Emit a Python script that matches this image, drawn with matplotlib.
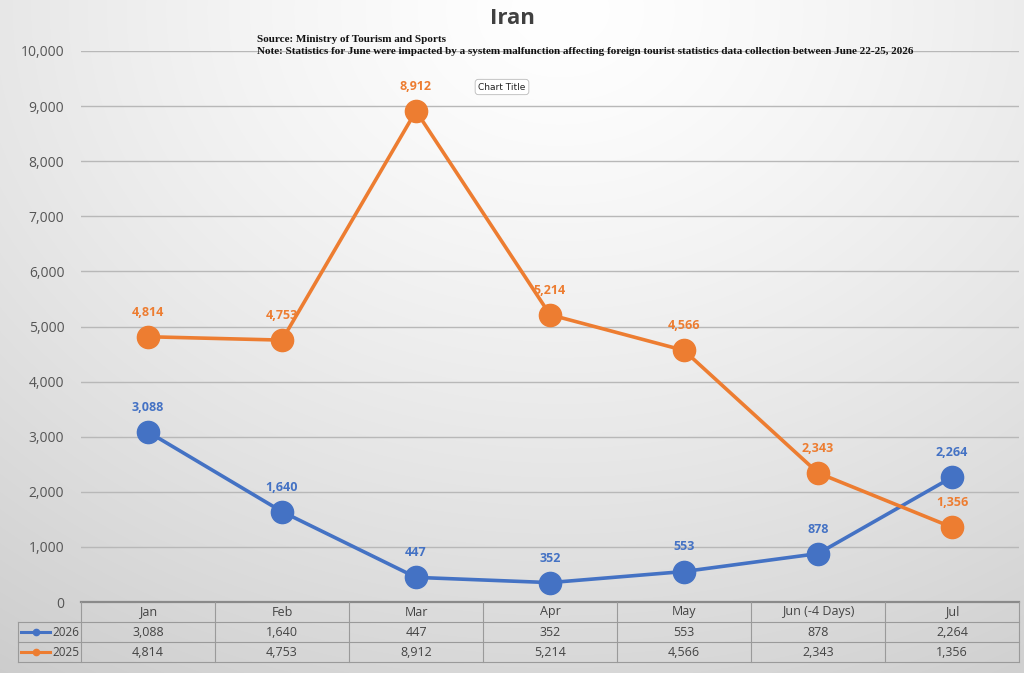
import numpy as np
import matplotlib.pyplot as plt

months = ['Jan', 'Feb', 'Mar', 'Apr', 'May', 'Jun (-4 Days)', 'Jul']
series_names = ['2026', '2025']
values_2026 = [3088, 1640, 447, 352, 553, 878, 2264]
values_2025 = [4814, 4753, 8912, 5214, 4566, 2343, 1356]
yticks = list(range(0, 10001, 1000))

BLUE = '#4472C4'
ORANGE = '#ED7D31'
W, H = 1024, 673

fig = plt.figure(figsize=(W / 100, H / 100), dpi=100)

# background: soft radial gradient, white at top centre
bg = fig.add_axes([0, 0, 1, 1])
yy, xx = np.mgrid[0:H, 0:W]
r = np.sqrt(((xx - 560) / 1.25) ** 2 + (yy - 10) ** 2) / 900
r = np.clip(r, 0, 1)
shade = 1.0 - 0.23 * r ** 1.3
bg.imshow(np.dstack([shade] * 3), extent=[0, W, H, 0], aspect='auto')
bg.set_xlim(0, W)
bg.set_ylim(H, 0)
bg.axis('off')

# main chart area
x0, x1, ytop, ybot = 81, 1019, 51, 602
ax = fig.add_axes([x0 / W, 1 - ybot / H, (x1 - x0) / W, (ybot - ytop) / H])
ax.patch.set_alpha(0)
x = np.arange(len(months))
ax.set_xlim(-0.5, len(months) - 0.5)
ax.set_ylim(0, 10000)
for v in yticks[1:]:
    ax.axhline(v, color='#b8b8b8', lw=1, zorder=0)
ax.set_yticks(yticks)
ax.set_yticklabels([f'{v:,}' for v in yticks], fontsize=10, color='#555555',
                   family='Open Sans')
ax.tick_params(axis='y', length=0, pad=12)
ax.set_xticks([])
for s in ax.spines.values():
    s.set_visible(False)

for vals, col in [(values_2026, BLUE), (values_2025, ORANGE)]:
    ax.plot(x, vals, color=col, lw=2.6, marker='o', ms=16, zorder=3)
    for xi, v in zip(x, vals):
        ax.annotate(f'{v:,}', (xi, v), xytext=(0, 13), textcoords='offset points',
                    ha='center', va='bottom', color=col, fontsize=9,
                    fontweight='bold', family='Open Sans')

# title and notes
fig.text(512 / W, 1 - 19 / H, 'Iran', ha='center', va='center', fontsize=16,
         fontweight='bold', color='#404040', family='Open Sans')
fig.text(257 / W, 1 - 40 / H, 'Source: Ministry of Tourism and Sports',
         ha='left', va='center', fontsize=8, fontweight='bold',
         family='Liberation Serif', color='#111111')
fig.text(257 / W, 1 - 51 / H,
         'Note: Statistics for June were impacted by a system malfunction affecting '
         'foreign tourist statistics data collection between June 22-25, 2026',
         ha='left', va='center', fontsize=8, fontweight='bold',
         family='Liberation Serif', color='#111111')
fig.text(502 / W, 1 - 87 / H, 'Chart Title', ha='center', va='center',
         fontsize=6.5, color='#222222',
         bbox=dict(boxstyle='round,pad=0.35', fc='white', ec='#bbbbbb', lw=0.6))

# data table under the chart
tx = fig.add_axes([0, 0, 1, 1])
tx.set_xlim(0, W)
tx.set_ylim(H, 0)
tx.axis('off')
tx.patch.set_alpha(0)
colw = (x1 - x0) / len(months)
rows = [ybot, 622, 642, 662]
lc = '#9a9a9a'
tx.plot([x0, x1], [ybot, ybot], color='#8a8a8a', lw=1.6)
for yv in rows[1:]:
    tx.plot([18, x1], [yv, yv], color=lc, lw=0.8)
for i in range(len(months) + 1):
    tx.plot([x0 + i * colw] * 2, [ybot, rows[-1]], color=lc, lw=0.8)
tx.plot([18, 18], [rows[1], rows[-1]], color=lc, lw=0.8)
for i, m in enumerate(months):
    cx = x0 + (i + 0.5) * colw
    tx.text(cx, 612, m, ha='center', va='center', fontsize=9, color='#444444',
            family='Open Sans')
    tx.text(cx, 632, f'{values_2026[i]:,}', ha='center', va='center', fontsize=9,
            color='#444444', family='Open Sans')
    tx.text(cx, 652, f'{values_2025[i]:,}', ha='center', va='center', fontsize=9,
            color='#444444', family='Open Sans')
for name, col, yc in [(series_names[0], BLUE, 632), (series_names[1], ORANGE, 652)]:
    tx.plot([21, 50], [yc, yc], color=col, lw=2.2)
    tx.plot([35.5], [yc], 'o', color=col, ms=4.5)
    tx.text(79, yc, name, ha='right', va='center', fontsize=8.5, color='#444444',
            family='Open Sans')

fig.savefig('out.png', dpi=100)
